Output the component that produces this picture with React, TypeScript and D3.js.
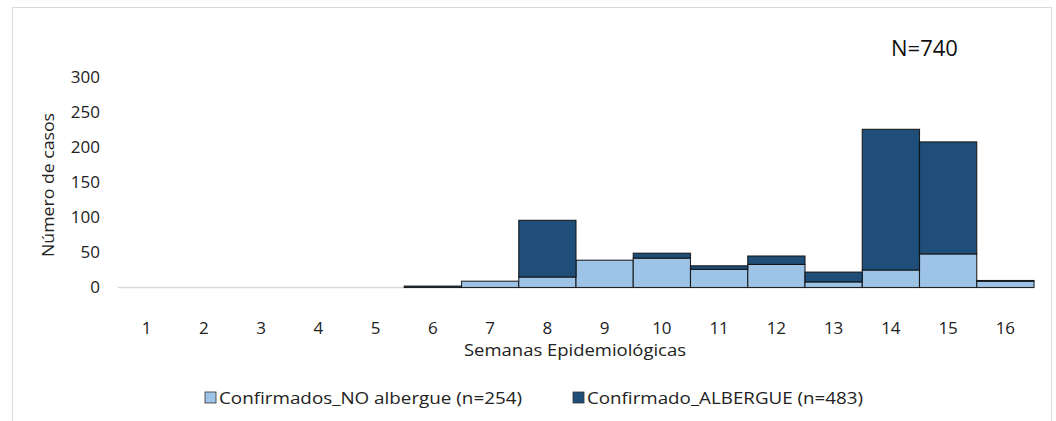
import React from "react";
import * as d3 from "d3";

const weeks = ["1","2","3","4","5","6","7","8","9","10","11","12","13","14","15","16"];
const noAlbergue = [0,0,0,0,0,0,9,15,39,42,26,33,8,25,48,9];
const albergue = [0,0,0,0,0,2,0,81,0,7,5,12,14,201,160,1];
const yTicks = [0,50,100,150,200,250,300];
const seriesNames = ["Confirmados_NO albergue (n=254)", "Confirmado_ALBERGUE (n=483)"];
const totalLabel = "N=740";

const W = 1056, H = 421;
const FONT = "'Open Sans', sans-serif";

export default function App() {
  const x = d3.scaleBand().domain(weeks).range([118, 1034]).paddingInner(0).paddingOuter(0);
  const y = d3.scaleLinear().domain([0, 300]).range([287.5, 77.5]);
  const colors = ["#9DC3E6", "#1F4E79"];
  const rows = weeks.map((w, i) => ({ w, a: noAlbergue[i], b: albergue[i] }));
  const stack = d3.stack<any>().keys(["a", "b"])(rows);
  const legendX = [205, 573];
  const legendLen = [303, 276];
  return (
    <svg width={W} height={H} style={{ position: "absolute", left: 0, top: 0 }} fontFamily={FONT}>
      <rect x={0} y={0} width={W} height={H} fill="#fff" />
      <rect x={12.5} y={7.5} width={1039} height={430} fill="none" stroke="#d9d9d9" strokeWidth={1} />
      <line x1={118} x2={1034} y1={y(0)} y2={y(0)} stroke="#d9d9d9" strokeWidth={1.5} />
      {stack.map((s, si) => (
        <g key={si}>
          {s.map((d, i) => {
            const h = y(d[0]) - y(d[1]);
            if (h <= 0) return null;
            return (
              <rect key={i} x={x(weeks[i])!} y={y(d[1])} width={x.bandwidth()} height={h}
                fill={colors[si]} stroke="#111" strokeOpacity={0.9} strokeWidth={1.1} />
            );
          })}
        </g>
      ))}
      {yTicks.map(t => (
        <text key={t} x={100} y={y(t)} dy="0.35em" textAnchor="end" fontSize={17} fill="#222">{t}</text>
      ))}
      {weeks.map(w => (
        <text key={w} x={x(w)! + x.bandwidth() / 2} y={328} dy="0.35em" textAnchor="middle" fontSize={17} fill="#222">{w}</text>
      ))}
      <text x={575} y={350} dy="0.35em" textAnchor="middle" fontSize={17} fill="#222" textLength={222} lengthAdjust="spacingAndGlyphs">Semanas Epidemiológicas</text>
      <text transform="translate(48,185) rotate(-90)" dy="0.35em" textAnchor="middle" fontSize={17} fill="#222" textLength={144} lengthAdjust="spacingAndGlyphs">Número de casos</text>
      <text x={924.5} y={56} textAnchor="middle" fontSize={22} fill="#111">{totalLabel}</text>
      {seriesNames.map((n, i) => {
        const lx = legendX[i];
        return (
          <g key={n}>
            <rect x={lx} y={392} width={11} height={11} fill={colors[i]} stroke="#333" strokeWidth={0.8} />
            <text x={lx + 14} y={398} dy="0.35em" fontSize={17} fill="#222" textLength={legendLen[i]} lengthAdjust="spacingAndGlyphs">{n}</text>
          </g>
        );
      })}
    </svg>
  );
}
